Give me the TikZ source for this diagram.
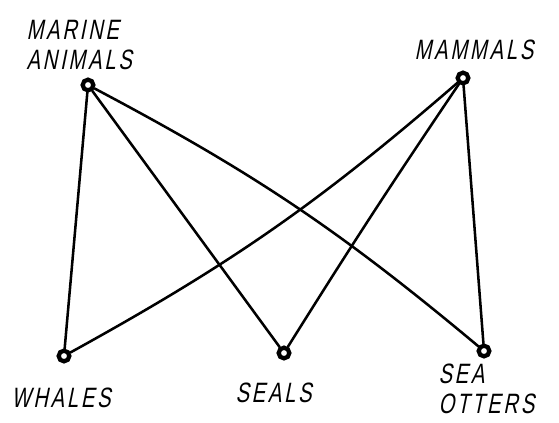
\documentclass[tikz,border=0pt]{standalone}
\usepackage{fontspec}
\setmainfont{Liberation Sans}
\newfontfamily\handfont[LetterSpace=10,FakeSlant=0.2,FakeStretch=0.72]{Liberation Sans}

\tikzset{every picture/.style={line width=0.75pt}}
\tikzset{
  vdot/.style={circle,draw,line width=3.2pt,fill=white,inner sep=0pt,minimum size=8pt},
  lbl/.style={inner sep=0.75pt,font=\handfont\fontsize{21}{23}\selectfont,align=left,anchor=west},
  edge/.style={line width=1.9pt,line cap=round}
}

\begin{document}
\begin{tikzpicture}[x=0.75pt,y=0.75pt,yscale=-1,xscale=1]
\useasboundingbox (0,0) rectangle (559,422);

% Dots
\node [vdot] (marine) at (88,85) {};
\node [vdot] (mammals) at (463,78) {};
\node [vdot] (whales) at (64,356) {};
\node [vdot] (seals) at (284,353) {};
\node [vdot] (otters) at (484,351) {};

% Text Node
\node [lbl] (lmarine) at (25,45) {MARINE\\ANIMALS};
% Text Node
\node [lbl] (lmammals) at (413,50) {MAMMALS};
% Text Node
\node [lbl] (lwhales) at (10,398) {WHALES};
% Text Node
\node [lbl] (lseals) at (234,393) {SEALS};
% Text Node
\node [lbl] (lotters) at (437,389) {SEA\\OTTERS};

% Edges
\draw [edge] (marine) -- (whales);
\draw [edge] (marine) -- (seals);
\draw [edge] (marine) to [bend right=6] (otters);
\draw [edge] (mammals) to [bend right=6] (whales);
\draw [edge] (mammals) to [bend left=1] (seals);
\draw [edge] (mammals) -- (otters);

\end{tikzpicture}
\end{document}
